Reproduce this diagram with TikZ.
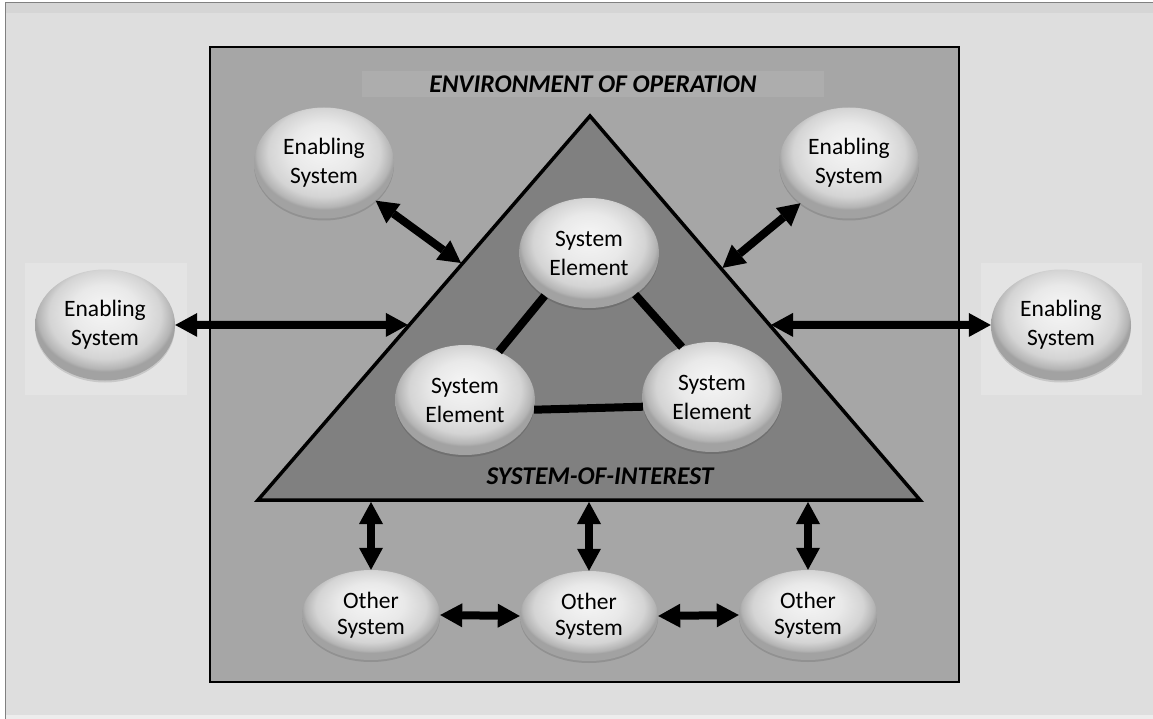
\documentclass[tikz,border=0pt]{standalone}
\usepackage{fontspec}
\setmainfont{Carlito}
\usetikzlibrary{arrows.meta,shapes.geometric,shadows,calc}
\definecolor{bgc}{HTML}{DEDEDE}
\definecolor{envc}{HTML}{A6A6A6}
\definecolor{soic}{HTML}{808080}
\definecolor{labc}{HTML}{ADADAD}
\definecolor{sidec}{HTML}{E4E4E4}
\definecolor{oa}{HTML}{F6F6F6}
\definecolor{ob}{HTML}{E9E9E9}
\definecolor{oc}{HTML}{D4D4D4}
\definecolor{od}{HTML}{B4B4B4}
\definecolor{oe}{HTML}{A2A2A2}
\pgfdeclareradialshading{orb}{\pgfpoint{0bp}{8bp}}{color(0bp)=(oa); color(12bp)=(ob); color(20bp)=(oc); color(24bp)=(od); color(25bp)=(oe); color(50bp)=(oe)}
\begin{document}
\begin{tikzpicture}[x=1pt,y=-1pt,
  orbnode/.style={ellipse, shading=orb, inner sep=0pt, align=center,
    font=\fontsize{23.5}{29}\selectfont,
    drop shadow={shadow xshift=0pt, shadow yshift=-2pt, opacity=0.12, fill=black}},
  enab/.style={orbnode, minimum width=140pt, minimum height=111pt},
  elem/.style={orbnode, minimum width=140pt, minimum height=110pt},
  other/.style={orbnode, minimum width=138pt, minimum height=90pt, font=\fontsize{23.5}{26.5}\selectfont},
  dbl/.style={line width=8pt, {Triangle[length=22pt,width=24pt,line width=0pt]}-{Triangle[length=22pt,width=24pt,line width=0pt]}},
  link/.style={line width=8pt},
  title/.style={font=\fontsize{25.5}{29}\selectfont\bfseries\itshape, inner sep=0pt}]
\useasboundingbox (0,0) rectangle (1153,719);
% page background
\fill[white] (0,0) rectangle (1153,719);
\fill[bgc] (5,3) rectangle (1153,715);
\fill[bgc!96!black] (5,3) rectangle (1153,13);
\fill[bgc!55!white] (5,715) rectangle (1153,719);
\draw[gray, line width=1pt] (5,719) -- (5,3) -- (1153,3);
% side panels
\fill[sidec] (25,263) rectangle (187,395);
\fill[sidec] (981,263) rectangle (1142,395);
% environment
\filldraw[fill=envc, draw=black, line width=2.5pt] (210,47) rectangle (959,682);
\fill[labc] (362,71) rectangle (824,97);
\node[title] (envlabel) at (593,84) {ENVIRONMENT OF OPERATION};
% system of interest
\coordinate (apex) at (590,116);
\coordinate (bl) at (258,500);
\coordinate (br) at (920,500);
\filldraw[fill=soic, draw=black, line width=3.5pt, line join=miter] (apex) -- (br) -- (bl) -- cycle;
\node[title] (soilabel) at (600,476) {SYSTEM-OF-INTEREST};
% edge points
\coordinate (pTL) at ($(apex)!0.385!(bl)$);
\coordinate (pL) at ($(apex)!0.544!(bl)$);
\coordinate (pTR) at ($(apex)!0.398!(br)$);
\coordinate (pR) at ($(apex)!0.544!(br)$);
\coordinate (pB1) at (371,502);
\coordinate (pB2) at (589,502);
\coordinate (pB3) at (808,502);
% nodes
\node[enab] (ETL) at (324,163) {Enabling\\System};
\node[enab] (ETR) at (849,163) {Enabling\\System};
\node[enab] (EL) at (105,325) {Enabling\\System};
\node[enab] (ER) at (1061,325) {Enabling\\System};
\node[elem] (SET) at (589,253) {System\\Element};
\node[elem] (SEL) at (465,400) {System\\Element};
\node[elem] (SER) at (712,397) {System\\Element};
\node[other] (OS1) at (371,615) {Other\\System};
\node[other] (OS2) at (589,616) {Other\\System};
\node[other] (OS3) at (808,615) {Other\\System};
% element links
\draw[link] (SET.224) -- (SEL.55);
\draw[link] (SET.318) -- (SER.121);
\draw[link] (SEL.-8) -- (SER.188);
% arrows
\draw[dbl, shorten >=1.5pt] (ETL) -- (pTL);
\draw[dbl, shorten >=1.5pt] (EL) -- (pL);
\draw[dbl, shorten >=1.5pt] (ETR) -- (pTR);
\draw[dbl, shorten >=1.5pt] (ER) -- (pR);
\draw[dbl] (OS1.north) -- (pB1);
\draw[dbl] (OS2.north) -- (pB2);
\draw[dbl] (OS3.north) -- (pB3);
\draw[dbl] (OS1.east) -- (OS2.west);
\draw[dbl] (OS2.east) -- (OS3.west);
\end{tikzpicture}
\end{document}
